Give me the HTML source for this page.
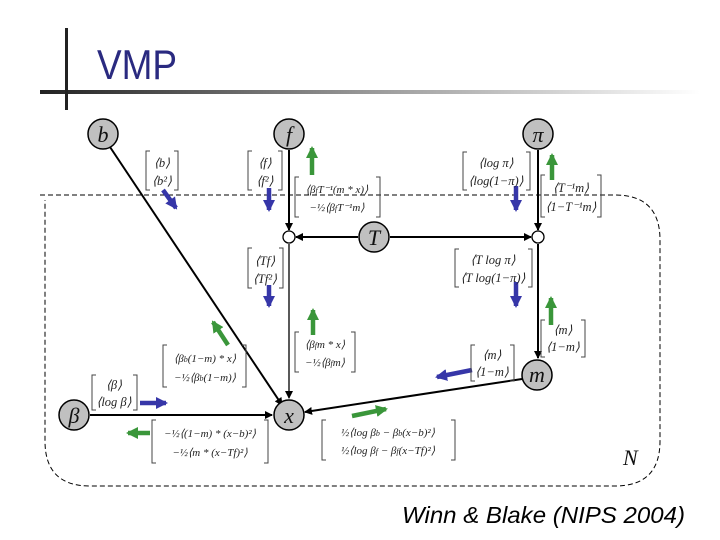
<!DOCTYPE html>
<html><head><meta charset="utf-8"><style>
html,body{margin:0;padding:0;background:#fff;}
svg{display:block}
.m{font-family:"Liberation Serif",serif;font-style:italic;font-size:12.5px;fill:#222}
.n{font-family:"Liberation Serif",serif;font-style:italic;font-size:22px;fill:#111}
</style></head><body>
<svg width="720" height="540" viewBox="0 0 720 540" xmlns="http://www.w3.org/2000/svg">
<defs>
<linearGradient id="g" x1="0" x2="1"><stop offset="0" stop-color="#222"/><stop offset="0.5" stop-color="#999"/><stop offset="1" stop-color="#fff"/></linearGradient>
<marker id="ah" markerWidth="8" markerHeight="8" refX="7" refY="4" orient="auto" markerUnits="userSpaceOnUse"><path d="M0,0 L8,4 L0,8 z" fill="#000"/></marker>
<marker id="bh" markerWidth="12" markerHeight="12" refX="10" refY="6" orient="auto" markerUnits="userSpaceOnUse"><path d="M0,0 L12,6 L0,12 z" fill="#3636a8"/></marker>
<marker id="gh" markerWidth="12" markerHeight="12" refX="10" refY="6" orient="auto" markerUnits="userSpaceOnUse"><path d="M0,0 L12,6 L0,12 z" fill="#3a963a"/></marker>
</defs>
<rect x="40" y="90" width="660" height="4" fill="url(#g)"/>
<rect x="65" y="28" width="3" height="82" fill="#222"/>
<text x="97" y="79" font-family="Liberation Sans,sans-serif" font-size="42" fill="#2a2a80" transform="translate(97 0) scale(0.88 1) translate(-97 0)">VMP</text>

<path d="M40,195 H615 Q660,195 660,240 V441 Q660,486 615,486 H90 Q45,486 45,441 V200" fill="none" stroke="#000" stroke-dasharray="5,3" stroke-width="1"/>
<text x="623" y="465" class="n" font-size="20">N</text>

<g stroke="#000" stroke-width="2" fill="none">
<line x1="110" y1="147" x2="282" y2="405" marker-end="url(#ah)"/>
<line x1="289" y1="150" x2="289" y2="230" marker-end="url(#ah)"/>
<line x1="358" y1="237" x2="296" y2="237" marker-end="url(#ah)"/>
<line x1="390" y1="237" x2="531" y2="237" marker-end="url(#ah)"/>
<line x1="538" y1="150" x2="538" y2="230" marker-end="url(#ah)"/>
<line x1="538" y1="244" x2="538" y2="358" marker-end="url(#ah)"/>
<line x1="289" y1="244" x2="289" y2="398" marker-end="url(#ah)" stroke-width="1.3"/>
<line x1="522" y1="379" x2="305" y2="412" marker-end="url(#ah)"/>
<line x1="90" y1="415" x2="272" y2="415" marker-end="url(#ah)"/>
</g>
<g fill="#fff" stroke="#000" stroke-width="1.3"><circle cx="289" cy="237" r="6"/><circle cx="538" cy="237" r="6"/></g>
<g fill="#c0c0c0" stroke="#000" stroke-width="1.5">
<circle cx="103" cy="134" r="15"/><circle cx="289" cy="134" r="15"/><circle cx="538" cy="134" r="15"/>
<circle cx="374" cy="237" r="15"/><circle cx="537" cy="375" r="15"/><circle cx="74" cy="415" r="15"/><circle cx="289" cy="415" r="15"/>
</g>
<g class="n" text-anchor="middle">
<text x="103" y="142">b</text><text x="289" y="142">f</text><text x="538" y="142">π</text>
<text x="374" y="245">T</text><text x="537" y="382">m</text><text x="74" y="423">β</text><text x="289" y="423">x</text>
</g>

<g stroke-width="4.5" fill="none">
<line x1="163" y1="190" x2="176" y2="208" stroke="#3636a8" marker-end="url(#bh)"/>
<line x1="269" y1="188" x2="269" y2="210" stroke="#3636a8" marker-end="url(#bh)"/>
<line x1="269" y1="285" x2="269" y2="306" stroke="#3636a8" marker-end="url(#bh)"/>
<line x1="516" y1="186" x2="516" y2="210" stroke="#3636a8" marker-end="url(#bh)"/>
<line x1="516" y1="282" x2="516" y2="306" stroke="#3636a8" marker-end="url(#bh)"/>
<line x1="472" y1="370" x2="437" y2="377" stroke="#3636a8" marker-end="url(#bh)"/>
<line x1="140" y1="403" x2="166" y2="403" stroke="#3636a8" marker-end="url(#bh)"/>
<line x1="312" y1="175" x2="312" y2="148" stroke="#3a963a" marker-end="url(#gh)"/>
<line x1="552" y1="180" x2="552" y2="155" stroke="#3a963a" marker-end="url(#gh)"/>
<line x1="551" y1="325" x2="551" y2="298" stroke="#3a963a" marker-end="url(#gh)"/>
<line x1="228" y1="345" x2="213" y2="322" stroke="#3a963a" marker-end="url(#gh)"/>
<line x1="313" y1="335" x2="313" y2="310" stroke="#3a963a" marker-end="url(#gh)"/>
<line x1="150" y1="433" x2="128" y2="433" stroke="#3a963a" marker-end="url(#gh)"/>
<line x1="352" y1="416" x2="386" y2="409" stroke="#3a963a" marker-end="url(#gh)"/>
</g>

<g fill="none" stroke="#444" stroke-width="1">
<path d="M150,151 h-4 v39 h4 M174,151 h4 v39 h-4"/>
<path d="M252,151 h-4 v39 h4 M278,151 h4 v39 h-4"/>
<path d="M299,177 h-4 v40 h4 M376,177 h4 v40 h-4"/>
<path d="M252,248 h-4 v40 h4 M279,248 h4 v40 h-4"/>
<path d="M467,152 h-4 v38 h4 M526,152 h4 v38 h-4"/>
<path d="M545,175 h-4 v42 h4 M597,175 h4 v42 h-4"/>
<path d="M459,249 h-4 v38 h4 M528,249 h4 v38 h-4"/>
<path d="M545,320 h-4 v37 h4 M581,320 h4 v37 h-4"/>
<path d="M475,345 h-4 v36 h4 M510,345 h4 v36 h-4"/>
<path d="M167,345 h-4 v42 h4 M242,345 h4 v42 h-4"/>
<path d="M299,332 h-4 v40 h4 M351,332 h4 v40 h-4"/>
<path d="M96,375 h-4 v35 h4 M133,375 h4 v35 h-4"/>
<path d="M156,420 h-4 v43 h4 M264,420 h4 v43 h-4"/>
<path d="M326,420 h-4 v40 h4 M451,420 h4 v40 h-4"/>
</g>
<g class="m" text-anchor="middle">
<text x="162" y="167">⟨b⟩</text><text x="162" y="185">⟨b²⟩</text>
<text x="265" y="167">⟨f⟩</text><text x="265" y="185">⟨f²⟩</text>
<text x="337" y="193" font-size="11">⟨β<tspan font-size="8">f</tspan>T⁻¹(m * x)⟩</text><text x="337" y="211" font-size="11">−½⟨β<tspan font-size="8">f</tspan>T⁻¹m⟩</text>
<text x="265" y="265">⟨Tf⟩</text><text x="265" y="283">⟨Tf²⟩</text>
<text x="496" y="167">⟨log π⟩</text><text x="496" y="185">⟨log(1−π)⟩</text>
<text x="571" y="192">⟨T⁻¹m⟩</text><text x="571" y="211">⟨1−T⁻¹m⟩</text>
<text x="493" y="264">⟨T log π⟩</text><text x="493" y="282">⟨T log(1−π)⟩</text>
<text x="563" y="334">⟨m⟩</text><text x="563" y="351">⟨1−m⟩</text>
<text x="492" y="359">⟨m⟩</text><text x="492" y="376">⟨1−m⟩</text>
<text x="205" y="362" font-size="11">⟨β<tspan font-size="8">b</tspan>(1−m) * x⟩</text><text x="205" y="381" font-size="11">−½⟨β<tspan font-size="8">b</tspan>(1−m)⟩</text>
<text x="325" y="348" font-size="11">⟨β<tspan font-size="8">f</tspan>m * x⟩</text><text x="325" y="366" font-size="11">−½⟨β<tspan font-size="8">f</tspan>m⟩</text>
<text x="114" y="389">⟨β⟩</text><text x="114" y="406">⟨log β⟩</text>
<text x="210" y="437" font-size="11">−½⟨(1−m) * (x−b)²⟩</text><text x="210" y="456" font-size="11">−½⟨m * (x−Tf)²⟩</text>
<text x="388" y="436" font-size="11">½⟨log β<tspan font-size="8">b</tspan> − β<tspan font-size="8">b</tspan>(x−b)²⟩</text><text x="388" y="454" font-size="11">½⟨log β<tspan font-size="8">f</tspan> − β<tspan font-size="8">f</tspan>(x−Tf)²⟩</text>
</g>
<text x="402" y="523" font-family="Liberation Sans,sans-serif" font-style="italic" font-size="23" fill="#000" textLength="283" lengthAdjust="spacingAndGlyphs">Winn &amp; Blake (NIPS 2004)</text>
</svg>
</body></html>
